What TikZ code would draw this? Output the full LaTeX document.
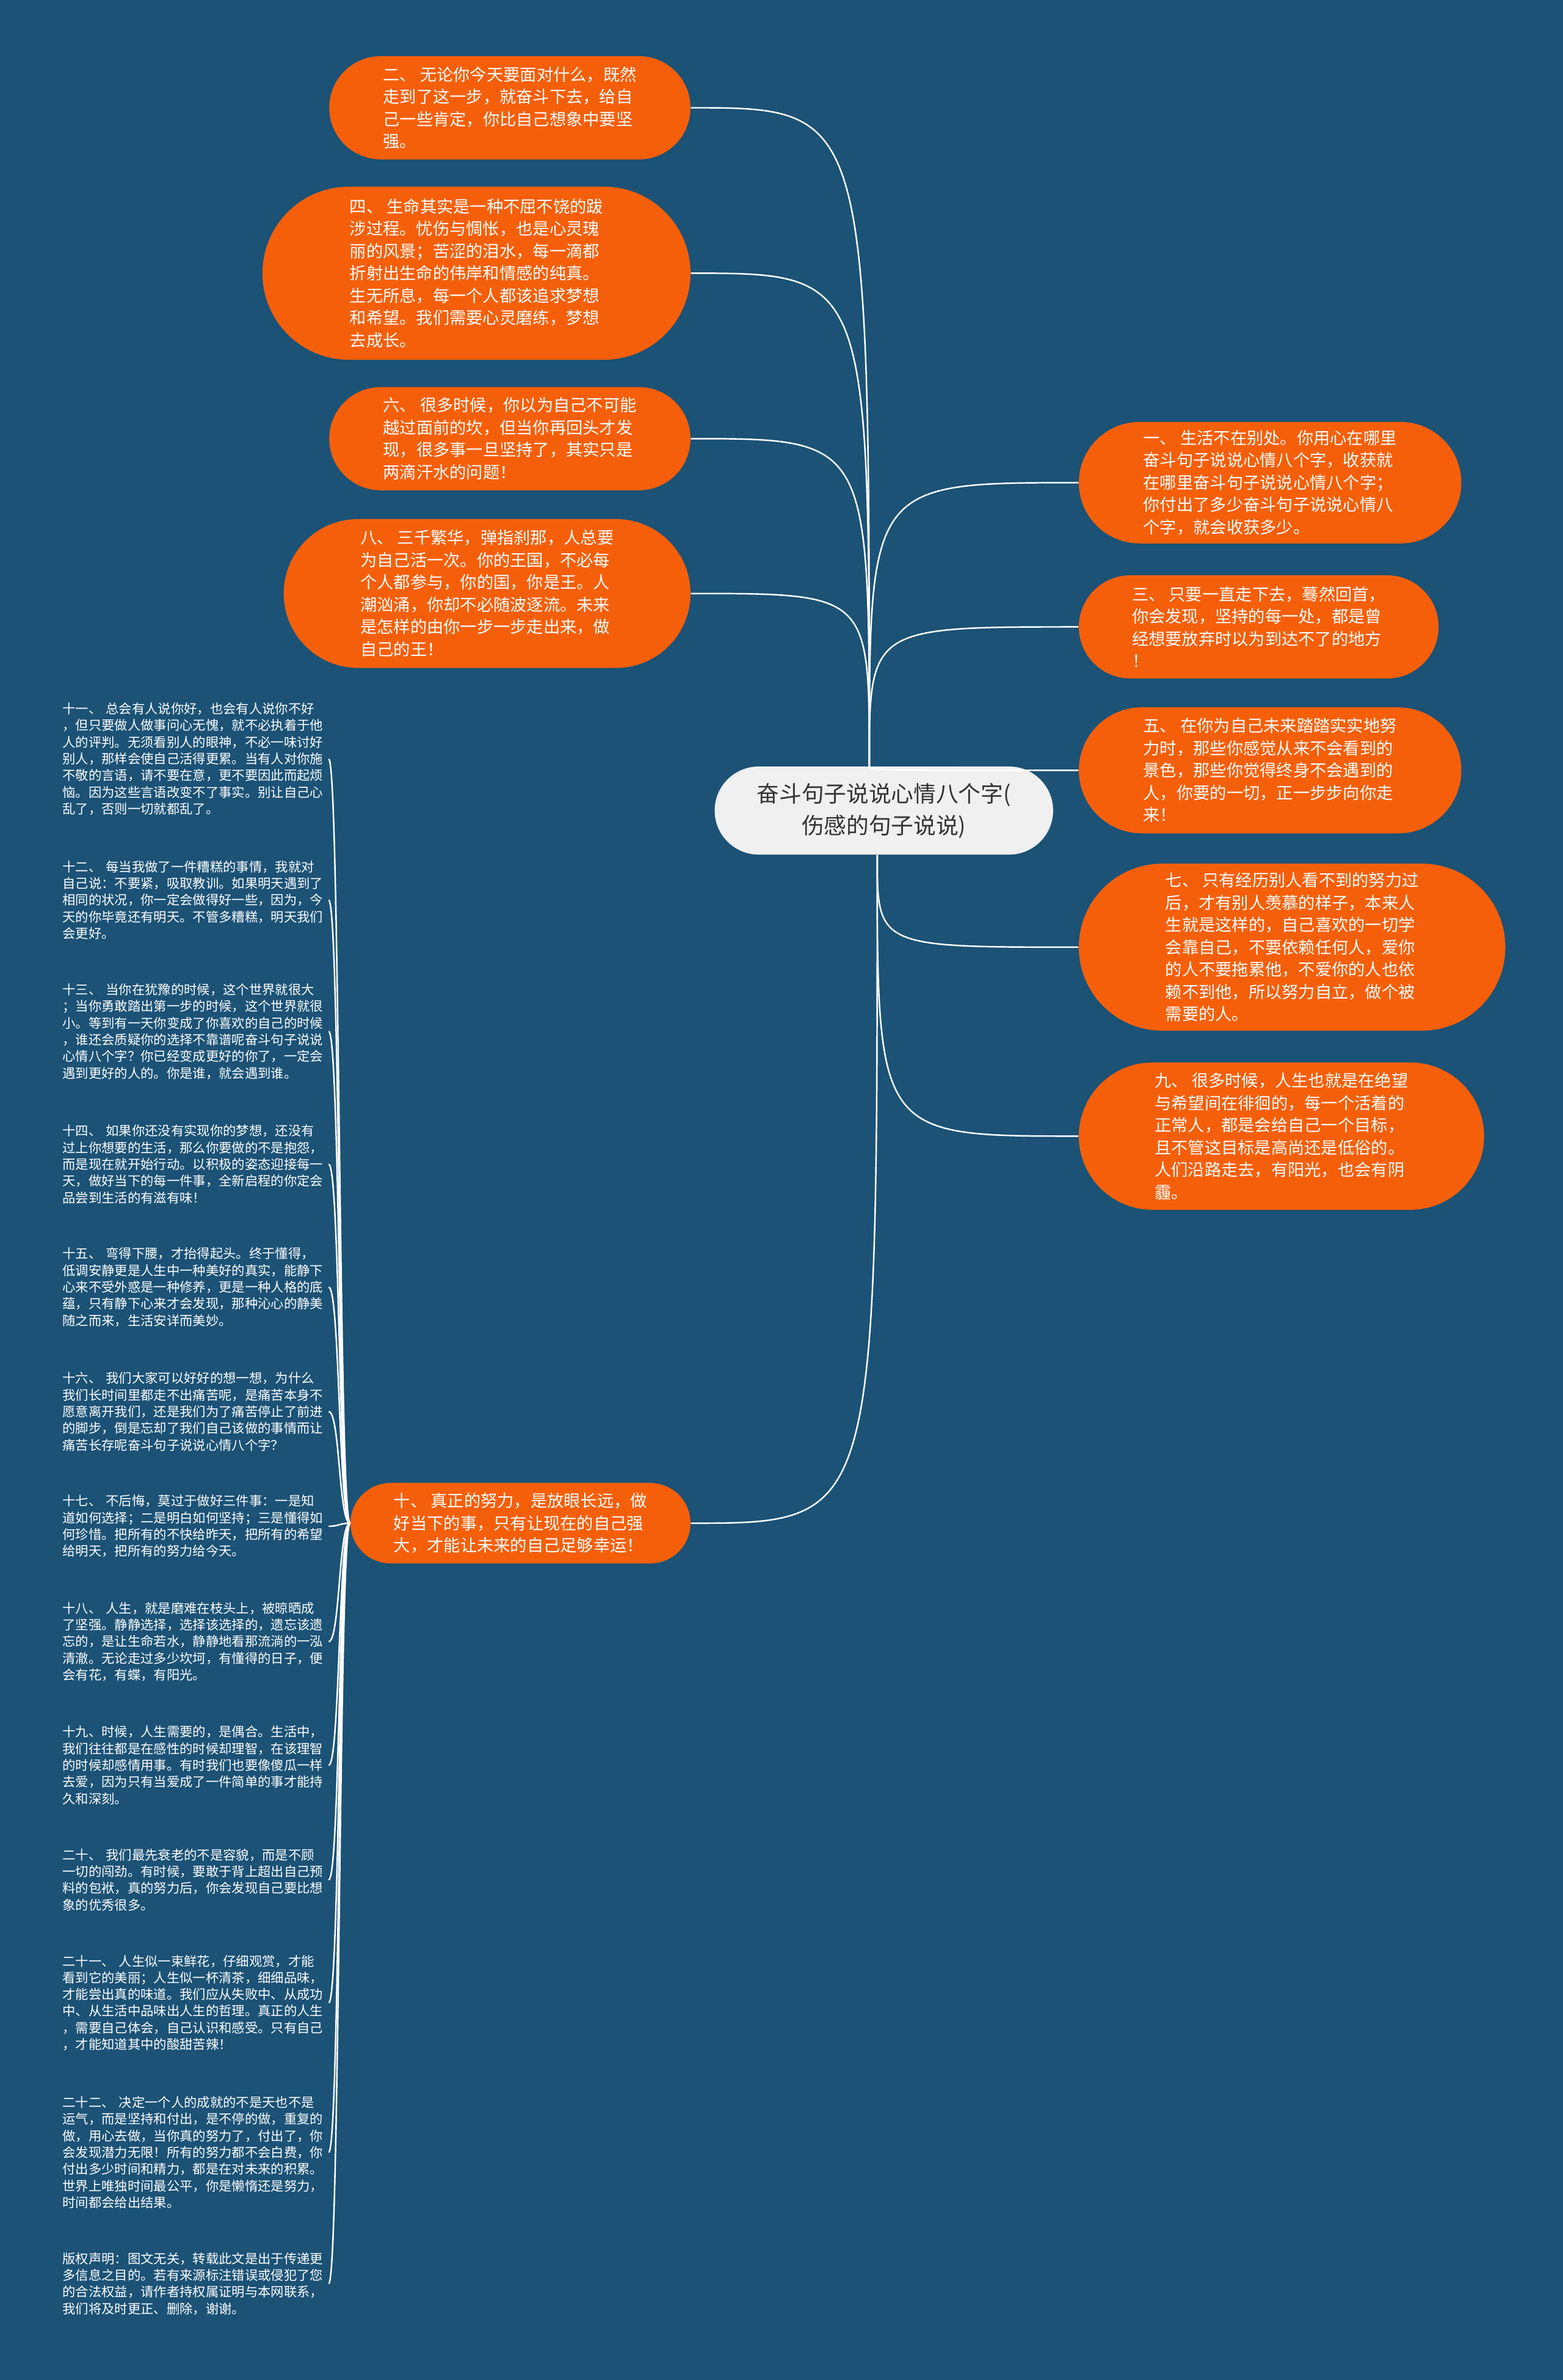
\documentclass[tikz,border=0pt]{standalone}
\usepackage{fontspec}
\setmainfont{Noto Sans CJK SC}
\definecolor{bgblue}{HTML}{1B5276}
\definecolor{leaforange}{HTML}{F65F0A}
\definecolor{rootgrey}{HTML}{F0F0F0}
\definecolor{roottext}{HTML}{333333}

\begin{document}
\begin{tikzpicture}[x=0.025cm, y=-0.025cm,
	pill/.style 2 args={fill=leaforange, text=white, align=left, inner sep=0pt,
		minimum width=#1, minimum height=#2, rounded corners=#2/2,
		font=\fontsize{7.8pt}{10.45pt}\selectfont},
	rootpill/.style={fill=rootgrey, text=roottext, align=center, inner sep=0pt,
		minimum width=5.575cm, minimum height=1.45cm, rounded corners=0.725cm,
		font=\fontsize{10.5pt}{14.9pt}\selectfont},
	leafnote/.style={anchor=west, inner sep=0pt, text=white, align=left, text width=4.375cm,
		font=\fontsize{6.1pt}{7.82pt}\selectfont},
	link/.style={draw=white, line width=0.7pt}]
	\useasboundingbox (0,0) rectangle (1030,1568);
	\fill [bgblue] (0,0) rectangle (1030,1568);

	\node [rootpill] (root) at (582.5,534) {奋斗句子说说心情八个字(\\伤感的句子说说)};
	\coordinate (rtop) at ([xshift=-0.24cm]root.north);
	\coordinate (rbot) at ([xshift=-0.11cm]root.south);

	\node [pill={5.95cm}{1.7cm}] (p2) at (336,71) {二、 无论你今天要面对什么，既然\\走到了这一步，就奋斗下去，给自\\己一些肯定，你比自己想象中要坚\\强。};
	\node [pill={7.05cm}{2.85cm}] (p4) at (314,180) {四、 生命其实是一种不屈不饶的跋\\涉过程。忧伤与惆怅，也是心灵瑰\\丽的风景；苦涩的泪水，每一滴都\\折射出生命的伟岸和情感的纯真。\\生无所息，每一个人都该追求梦想\\和希望。我们需要心灵磨练，梦想\\去成长。};
	\node [pill={5.95cm}{1.7cm}] (p6) at (336,289) {六、 很多时候，你以为自己不可能\\越过面前的坎，但当你再回头才发\\现，很多事一旦坚持了，其实只是\\两滴汗水的问题！};
	\node [pill={6.7cm}{2.45cm}] (p8) at (321,391) {八、 三千繁华，弹指刹那，人总要\\为自己活一次。你的王国，不必每\\个人都参与，你的国，你是王。人\\潮汹涌，你却不必随波逐流。未来\\是怎样的由你一步一步走出来，做\\自己的王！};

	\node [pill={6.3cm}{2.0cm}] (p1) at (837,318) {一、 生活不在别处。你用心在哪里\\奋斗句子说说心情八个字，收获就\\在哪里奋斗句子说说心情八个字；\\你付出了多少奋斗句子说说心情八\\个字，就会收获多少。};
	\node [pill={5.925cm}{1.7cm}] (p3) at (829.5,413) {三、 只要一直走下去，蓦然回首，\\你会发现，坚持的每一处，都是曾\\经想要放弃时以为到达不了的地方\\！};
	\node [pill={6.3cm}{2.075cm}] (p5) at (837,507.5) {五、 在你为自己未来踏踏实实地努\\力时，那些你感觉从来不会看到的\\景色，那些你觉得终身不会遇到的\\人，你要的一切，正一步步向你走\\来！};
	\node [pill={7.025cm}{2.75cm}] (p7) at (851.5,624) {七、 只有经历别人看不到的努力过\\后，才有别人羡慕的样子，本来人\\生就是这样的，自己喜欢的一切学\\会靠自己，不要依赖任何人，爱你\\的人不要拖累他，不爱你的人也依\\赖不到他，所以努力自立，做个被\\需要的人。};
	\node [pill={6.675cm}{2.425cm}] (p9) at (844.5,748.5) {九、 很多时候，人生也就是在绝望\\与希望间在徘徊的，每一个活着的\\正常人，都是会给自己一个目标，\\且不管这目标是高尚还是低俗的。\\人们沿路走去，有阳光，也会有阴\\霾。};

	\node [pill={5.6cm}{1.325cm}] (p10) at (343,1003.5) {十、 真正的努力，是放眼长远，做\\好当下的事，只有让现在的自己强\\大，才能让未来的自己足够幸运！};

	\node [leafnote] (q11) at (41,500) {十一、 总会有人说你好，也会有人说你不好\\，但只要做人做事问心无愧，就不必执着于他\\人的评判。无须看别人的眼神，不必一味讨好\\别人，那样会使自己活得更累。当有人对你施\\不敬的言语，请不要在意，更不要因此而起烦\\恼。因为这些言语改变不了事实。别让自己心\\乱了，否则一切就都乱了。};
	\node [leafnote] (q12) at (41,593) {十二、 每当我做了一件糟糕的事情，我就对\\自己说：不要紧，吸取教训。如果明天遇到了\\相同的状况，你一定会做得好一些，因为，今\\天的你毕竟还有明天。不管多糟糕，明天我们\\会更好。};
	\node [leafnote] (q13) at (41,679.5) {十三、 当你在犹豫的时候，这个世界就很大\\；当你勇敢踏出第一步的时候，这个世界就很\\小。等到有一天你变成了你喜欢的自己的时候\\，谁还会质疑你的选择不靠谱呢奋斗句子说说\\心情八个字？你已经变成更好的你了，一定会\\遇到更好的人的。你是谁，就会遇到谁。};
	\node [leafnote] (q14) at (41,767) {十四、 如果你还没有实现你的梦想，还没有\\过上你想要的生活，那么你要做的不是抱怨，\\而是现在就开始行动。以积极的姿态迎接每一\\天，做好当下的每一件事，全新启程的你定会\\品尝到生活的有滋有味！};
	\node [leafnote] (q15) at (41,848) {十五、 弯得下腰，才抬得起头。终于懂得，\\低调安静更是人生中一种美好的真实，能静下\\心来不受外惑是一种修养，更是一种人格的底\\蕴，只有静下心来才会发现，那种沁心的静美\\随之而来，生活安详而美妙。};
	\node [leafnote] (q16) at (41,930) {十六、 我们大家可以好好的想一想，为什么\\我们长时间里都走不出痛苦呢，是痛苦本身不\\愿意离开我们，还是我们为了痛苦停止了前进\\的脚步，倒是忘却了我们自己该做的事情而让\\痛苦长存呢奋斗句子说说心情八个字？};
	\node [leafnote] (q17) at (41,1005.5) {十七、 不后悔，莫过于做好三件事：一是知\\道如何选择；二是明白如何坚持；三是懂得如\\何珍惜。把所有的不快给昨天，把所有的希望\\给明天，把所有的努力给今天。};
	\node [leafnote] (q18) at (41,1081.5) {十八、 人生，就是磨难在枝头上，被晾晒成\\了坚强。静静选择，选择该选择的，遗忘该遗\\忘的，是让生命若水，静静地看那流淌的一泓\\清澈。无论走过多少坎坷，有懂得的日子，便\\会有花，有蝶，有阳光。};
	\node [leafnote] (q19) at (41,1163) {十九、时候，人生需要的，是偶合。生活中，\\我们往往都是在感性的时候却理智，在该理智\\的时候却感情用事。有时我们也要像傻瓜一样\\去爱，因为只有当爱成了一件简单的事才能持\\久和深刻。};
	\node [leafnote] (q20) at (41,1238.5) {二十、 我们最先衰老的不是容貌，而是不顾\\一切的闯劲。有时候，要敢于背上超出自己预\\料的包袱，真的努力后，你会发现自己要比想\\象的优秀很多。};
	\node [leafnote] (q21) at (41,1319.5) {二十一、 人生似一束鲜花，仔细观赏，才能\\看到它的美丽；人生似一杯清茶，细细品味，\\才能尝出真的味道。我们应从失败中、从成功\\中、从生活中品味出人生的哲理。真正的人生\\，需要自己体会，自己认识和感受。只有自己\\，才能知道其中的酸甜苦辣！};
	\node [leafnote] (q22) at (41,1418) {二十二、 决定一个人的成就的不是天也不是\\运气，而是坚持和付出，是不停的做，重复的\\做，用心去做，当你真的努力了，付出了，你\\会发现潜力无限！所有的努力都不会白费，你\\付出多少时间和精力，都是在对未来的积累。\\世界上唯独时间最公平，你是懒惰还是努力，\\时间都会给出结果。};
	\node [leafnote] (q23) at (41,1504.5) {版权声明：图文无关，转载此文是出于传递更\\多信息之目的。若有来源标注错误或侵犯了您\\的合法权益，请作者持权属证明与本网联系，\\我们将及时更正、删除，谢谢。};

	\foreach \n in {p2,p4,p6,p8}
		\draw [link] (rtop) .. controls (rtop |- \n.east) .. (\n.east);
	\foreach \n in {p1,p3,p5}
		\draw [link] (rtop) .. controls (rtop |- \n.west) .. (\n.west);
	\foreach \n in {p7,p9}
		\draw [link] (rbot) .. controls (rbot |- \n.west) .. (\n.west);
	\draw [link] (rbot) .. controls (rbot |- p10.east) .. (p10.east);
	\foreach \i in {11,...,23}
		\draw [link] (p10.west) .. controls +(-7.5,0) and +(7.5,0) .. (q\i.east);
\end{tikzpicture}
\end{document}
